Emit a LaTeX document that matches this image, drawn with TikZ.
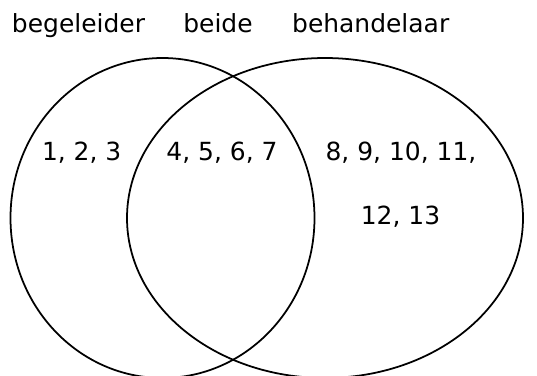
\documentclass[tikz,border=0pt]{standalone}
\usepackage{fontspec}
\setmainfont{DejaVu Sans}
\usetikzlibrary{positioning}

\begin{document}
\begin{tikzpicture}[x=0.02cm, y=-0.02cm,
  set/.style={draw=black, line width=1pt},
  title/.style={anchor=base, inner sep=0pt, font=\fontsize{14.2}{17}\selectfont},
  member/.style={anchor=base, inner sep=0pt, font=\fontsize{14.2}{17}\selectfont}
]
\useasboundingbox (0,0) rectangle (537,375);
\clip (0,0) rectangle (537,375);

% Sets
\coordinate (cbeg) at (162.5,218);
\coordinate (cbeh) at (325,218);
\draw[set] (cbeg) ellipse [x radius=152, y radius=160];
\draw[set] (cbeh) ellipse [x radius=198, y radius=160];

% Headings
\node[title] (begeleider)  at (78.5,32.5)  {begeleider};
\node[title] (beide)       at (218,32.5)   {beide};
\node[title] (behandelaar) at (370.7,32.5) {behandelaar};

% Members
\node[member] (left)   at (81.7,160)  {1, 2, 3};
\node[member] (middle) at (222,160)   {4, 5, 6, 7};
\node[member] (right)  at (401,160)   {8, 9, 10, 11,};
\node[member] (right2) at (400.5,224) {12, 13};
\end{tikzpicture}
\end{document}
